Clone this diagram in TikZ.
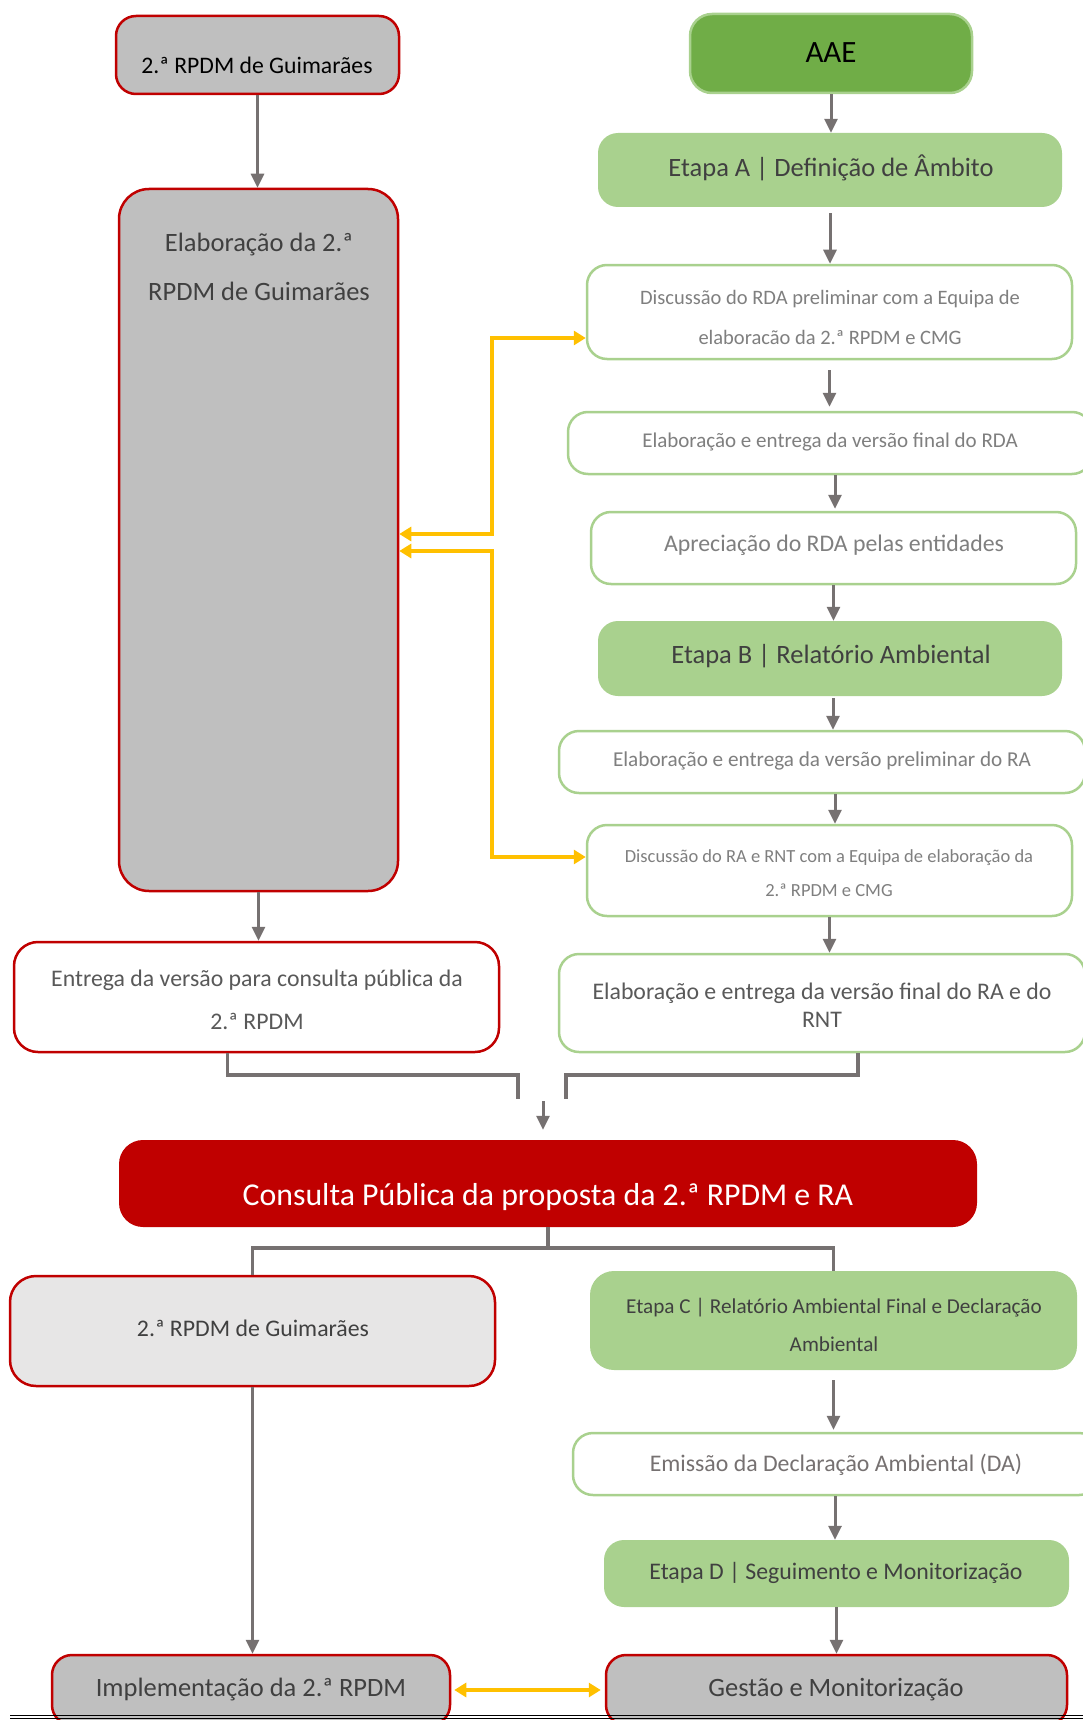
\documentclass[tikz,border=0pt]{standalone}
\usepackage{fontspec}
\setmainfont{Carlito}
\usetikzlibrary{arrows.meta}
\definecolor{cRed}{HTML}{C00000}
\definecolor{cGray}{HTML}{BFBFBF}
\definecolor{cLGray}{HTML}{E7E6E6}
\definecolor{cDGreen}{HTML}{70AD47}
\definecolor{cLGreen}{HTML}{A9D18E}
\definecolor{cArrow}{HTML}{767171}
\definecolor{cYel}{HTML}{FFC000}
\definecolor{cTa}{HTML}{404040}
\definecolor{cTb}{HTML}{7F7F7F}
\definecolor{cTc}{HTML}{595959}
\newcommand{\fsz}[2]{\fontsize{#1pt}{#2pt}\selectfont}
\begin{document}
\begin{tikzpicture}[x=1pt,y=-1pt,
  box/.style={rectangle, rounded corners=20pt, inner sep=0pt},
  redbox/.style={box, draw=cRed, line width=2.5pt, fill=cGray},
  whitebox/.style={box, draw=cLGreen, line width=2.5pt, fill=white},
  stagebox/.style={box, fill=cLGreen},
  txt/.style={inner sep=0pt, align=center},
  garrow/.style={draw=cArrow, line width=3pt, -{Triangle[length=14pt,width=13pt]}},
  gline/.style={draw=cArrow, line width=3.5pt},
  yarrow/.style={draw=cYel, line width=3.5pt, {Triangle[length=12pt,width=14pt]}-{Triangle[length=12pt,width=14pt]}}
]
\useasboundingbox (0,0) rectangle (1083,1720);
\clip (0,0) rectangle (1083,1720);

% ---------- boxes ----------
\node[redbox, minimum width=283pt, minimum height=78pt] (top) at (257.5,55) {};
\node[box, fill=cDGreen, draw=cLGreen, line width=2.5pt, rounded corners=22pt, minimum width=282pt, minimum height=79pt] (aae) at (831,53.5) {};
\node[stagebox, minimum width=464pt, minimum height=74pt] (etA) at (830,170) {};
\node[whitebox, minimum width=485pt, minimum height=94pt] (disc1) at (829.5,312) {};
\node[whitebox, minimum width=524pt, minimum height=62pt] (rda) at (830,443) {};
\node[whitebox, minimum width=485pt, minimum height=72pt] (apr) at (833.5,548) {};
\node[stagebox, minimum width=464pt, minimum height=75pt] (etB) at (830,658.5) {};
\node[whitebox, minimum width=526pt, minimum height=62pt] (pre) at (822,762) {};
\node[whitebox, minimum width=485pt, minimum height=91pt] (disc2) at (829.5,870.5) {};
\node[whitebox, minimum width=526pt, minimum height=98pt] (ra2) at (822,1003) {};
\node[redbox, rounded corners=30pt, minimum width=279pt, minimum height=702pt] (tall) at (258.5,540) {};
\node[redbox, fill=white, rounded corners=24pt, minimum width=485pt, minimum height=110pt] (entrega) at (256.5,997) {};
\node[box, fill=cRed, rounded corners=24pt, minimum width=858pt, minimum height=87pt] (consulta) at (548,1183.5) {};
\node[redbox, fill=cLGray, rounded corners=26pt, minimum width=485pt, minimum height=110pt] (rpdm2) at (252.5,1331) {};
\node[stagebox, rounded corners=24pt, minimum width=487pt, minimum height=99pt] (etC) at (833.5,1320.5) {};
\node[whitebox, minimum width=526pt, minimum height=62pt] (emi) at (836,1464) {};
\node[stagebox, minimum width=465pt, minimum height=67pt] (etD) at (836.5,1573.5) {};
\node[redbox, minimum width=398pt, minimum height=70pt] (impl) at (251,1690) {};
\node[redbox, minimum width=461pt, minimum height=70pt] (gest) at (836.5,1690) {};

% ---------- texts ----------
\node[txt, text=black, font=\fsz{23.7}{28}] (t-top) at (257,65) {2.ª RPDM de Guimarães};
\node[txt, text=black, font=\fsz{31}{36}] (t-aae) at (831,53) {AAE};
\node[txt, text=cTa, font=\fsz{26.5}{30}] (t-etA) at (831,168) {Etapa A | Definição de Âmbito};
\node[txt, text=cTb, font=\fsz{20.5}{40}] (t-disc1) at (830,317) {Discussão do RDA preliminar com a Equipa de\\elaboracão da 2.ª RPDM e CMG};
\node[txt, text=cTb, font=\fsz{21}{24}] (t-rda) at (830,442) {Elaboração e entrega da versão final do RDA};
\node[txt, text=cTb, font=\fsz{23.8}{26}] (t-apr) at (834,545) {Apreciação do RDA pelas entidades};
\node[txt, text=cTa, font=\fsz{26.5}{30}] (t-etB) at (831,656) {Etapa B | Relatório Ambiental};
\node[txt, text=cTb, font=\fsz{21.2}{24}] (t-pre) at (822,761) {Elaboração e entrega da versão preliminar do RA};
\node[txt, text=cTb, font=\fsz{18.5}{34}] (t-disc2) at (829,873) {Discussão do RA e RNT com a Equipa de elaboração da\\2.ª RPDM e CMG};
\node[txt, text=cTc, font=\fsz{23.8}{28}] (t-ra2) at (822,1005) {Elaboração e entrega da versão final do RA e do\\RNT};
\node[txt, text=cTa, font=\fsz{26.5}{49}] (t-tall) at (259,267) {Elaboração da 2.ª\\RPDM de Guimarães};
\node[txt, text=cTc, font=\fsz{23.8}{43}] (t-entrega) at (257,1000) {Entrega da versão para consulta pública da\\2.ª RPDM};
\node[txt, text=white, font=\fsz{31.8}{38}] (t-consulta) at (548,1197) {Consulta Pública da proposta da 2.ª RPDM e RA};
\node[txt, text=cTa, font=\fsz{23.8}{26}] (t-rpdm2) at (253,1328) {2.ª RPDM de Guimarães};
\node[txt, text=cTa, font=\fsz{21.2}{38}] (t-etC) at (834,1325) {Etapa C | Relatório Ambiental Final e Declaração\\Ambiental};
\node[txt, text=cArrow, font=\fsz{23.8}{26}] (t-emi) at (836,1465) {Emissão da Declaração Ambiental (DA)};
\node[txt, text=cTa, font=\fsz{23.8}{26}] (t-etD) at (836,1573) {Etapa D | Seguimento e Monitorização};
\node[txt, text=cTa, font=\fsz{26.5}{30}] (t-impl) at (251,1690) {Implementação da 2.ª RPDM};
\node[txt, text=cTa, font=\fsz{26.5}{30}] (t-gest) at (836,1690) {Gestão e Monitorização};

% ---------- gray arrows ----------
\draw[garrow] (top.south) -- (top.south |- tall.north);
\draw[garrow] (aae.south) -- (aae.south |- etA.north);
\draw[garrow, shorten <=6pt] (etA.south) -- (etA.south |- disc1.north);
\draw[garrow, shorten <=10pt, shorten >=4pt] (disc1.south) -- (disc1.south |- rda.north);
\draw[garrow, shorten >=2pt] ([xshift=5pt]rda.south) -- ([xshift=5pt]rda.south |- apr.north);
\draw[garrow] (apr.south) -- (apr.south |- etB.north);
\draw[garrow, shorten <=2pt] ([xshift=3pt]etB.south) -- ([xshift=3pt]etB.south |- pre.north);
\draw[garrow] ([xshift=13pt]pre.south) -- ([xshift=13pt]pre.south |- disc2.north);
\draw[garrow] (disc2.south) -- (disc2.south |- ra2.north);
\draw[garrow] (tall.south) -- (tall.south |- entrega.north);
\draw[garrow, shorten <=10pt, shorten >=2pt] (etC.south) -- (etC.south |- emi.north);
\draw[garrow] ([xshift=-1pt]emi.south) -- ([xshift=-1pt]emi.south |- etD.north);
\draw[garrow] (etD.south) -- (etD.south |- gest.north);
\draw[garrow] (rpdm2.south) -- (rpdm2.south |- impl.north);

% ---------- merge into consulta ----------
\coordinate (mL) at (518,1099);
\coordinate (mR) at (566,1099);
\coordinate (mA) at (543,1101);
\draw[gline] ([xshift=-29pt]entrega.south) |- (518,1075) -- (mL);
\draw[gline] ([xshift=36pt]ra2.south) |- (566,1075) -- (mR);
\draw[garrow, shorten >=10pt] (mA) -- (mA |- consulta.north);

% ---------- split from consulta ----------
\draw[gline] (consulta.south) -- ++(0,21) coordinate (bj);
\draw[gline] (rpdm2.north) |- (bj) -| (etC.north);

% ---------- yellow connectors ----------
\coordinate (yk1) at (492,534);
\coordinate (yk2) at (492,551);
\draw[yarrow] ([yshift=6pt]tall.east) -- (yk1) |- ([yshift=-26pt]disc1.west);
\draw[yarrow] ([yshift=-11pt]tall.east) -- (yk2) |- ([yshift=13.5pt]disc2.west);
\draw[yarrow, shorten <=3pt, shorten >=4pt] (impl.east) -- (gest.west);

% ---------- bottom double rule ----------
\draw[black, line width=1.3pt] (10,1715.5) -- (1083,1715.5);
\draw[black, line width=1.3pt] (10,1718.8) -- (1083,1718.8);
\end{tikzpicture}
\end{document}
